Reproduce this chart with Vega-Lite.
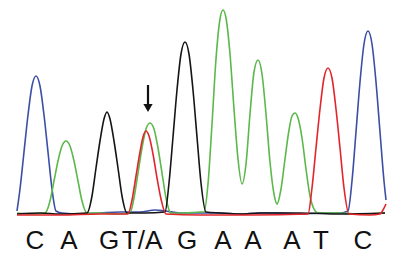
{
  "$schema": "https://vega.github.io/schema/vega-lite/v6.json",
  "width": 397,
  "height": 256,
  "padding": 0,
  "autosize": "none",
  "background": "white",
  "config": {"view": {"stroke": null}},
  "datasets": {
    "traces": [
      {"t":"C","x":17,"v":3},{"t":"C","x":20,"v":25},{"t":"C","x":24,"v":62},{"t":"C","x":28,"v":99},{"t":"C","x":32,"v":128},{"t":"C","x":36,"v":138},{"t":"C","x":40,"v":128},{"t":"C","x":44,"v":99},{"t":"C","x":48,"v":62},{"t":"C","x":52,"v":25},{"t":"C","x":56,"v":3},{"t":"C","x":62,"v":1},{"t":"C","x":80,"v":0},{"t":"C","x":100,"v":1},{"t":"C","x":120,"v":2},{"t":"C","x":140,"v":2},{"t":"C","x":155,"v":4},{"t":"C","x":165,"v":3},{"t":"C","x":180,"v":1},{"t":"C","x":200,"v":1},{"t":"C","x":220,"v":1},{"t":"C","x":240,"v":0},{"t":"C","x":260,"v":1},{"t":"C","x":280,"v":1},{"t":"C","x":300,"v":0},{"t":"C","x":320,"v":1},{"t":"C","x":340,"v":1},{"t":"C","x":348,"v":3},{"t":"C","x":352,"v":33},{"t":"C","x":356,"v":82},{"t":"C","x":360,"v":132},{"t":"C","x":364,"v":170},{"t":"C","x":368,"v":183},{"t":"C","x":372,"v":170},{"t":"C","x":376,"v":132},{"t":"C","x":380,"v":82},{"t":"C","x":384,"v":33},{"t":"C","x":386,"v":14},
      {"t":"A","x":17,"v":1},{"t":"A","x":30,"v":0},{"t":"A","x":45,"v":1},{"t":"A","x":50,"v":13},{"t":"A","x":54,"v":33},{"t":"A","x":58,"v":53},{"t":"A","x":62,"v":68},{"t":"A","x":66,"v":73},{"t":"A","x":70,"v":68},{"t":"A","x":74,"v":53},{"t":"A","x":78,"v":33},{"t":"A","x":82,"v":13},{"t":"A","x":87,"v":1},{"t":"A","x":100,"v":1},{"t":"A","x":115,"v":0},{"t":"A","x":130,"v":1},{"t":"A","x":134,"v":16},{"t":"A","x":138,"v":41},{"t":"A","x":142,"v":66},{"t":"A","x":146,"v":85},{"t":"A","x":150,"v":91},{"t":"A","x":154,"v":85},{"t":"A","x":158,"v":66},{"t":"A","x":162,"v":41},{"t":"A","x":166,"v":16},{"t":"A","x":171,"v":1},{"t":"A","x":185,"v":1},{"t":"A","x":200,"v":2},{"t":"A","x":204,"v":2},{"t":"A","x":208,"v":30},{"t":"A","x":212,"v":90},{"t":"A","x":216,"v":155},{"t":"A","x":220,"v":195},{"t":"A","x":223,"v":204},{"t":"A","x":226,"v":196},{"t":"A","x":230,"v":160},{"t":"A","x":234,"v":105},{"t":"A","x":238,"v":55},{"t":"A","x":242,"v":30},{"t":"A","x":246,"v":50},{"t":"A","x":250,"v":100},{"t":"A","x":254,"v":142},{"t":"A","x":258,"v":154},{"t":"A","x":262,"v":140},{"t":"A","x":266,"v":100},{"t":"A","x":270,"v":52},{"t":"A","x":274,"v":20},{"t":"A","x":277,"v":10},{"t":"A","x":281,"v":25},{"t":"A","x":285,"v":55},{"t":"A","x":289,"v":84},{"t":"A","x":292,"v":98},{"t":"A","x":295,"v":101},{"t":"A","x":298,"v":96},{"t":"A","x":302,"v":76},{"t":"A","x":306,"v":45},{"t":"A","x":310,"v":18},{"t":"A","x":314,"v":5},{"t":"A","x":318,"v":1},{"t":"A","x":340,"v":1},{"t":"A","x":360,"v":0},{"t":"A","x":385,"v":1},
      {"t":"G","x":17,"v":0},{"t":"G","x":40,"v":1},{"t":"G","x":60,"v":0},{"t":"G","x":87,"v":1},{"t":"G","x":92,"v":18},{"t":"G","x":96,"v":46},{"t":"G","x":100,"v":73},{"t":"G","x":104,"v":95},{"t":"G","x":107,"v":102},{"t":"G","x":110,"v":95},{"t":"G","x":114,"v":73},{"t":"G","x":118,"v":46},{"t":"G","x":122,"v":18},{"t":"G","x":127,"v":1},{"t":"G","x":145,"v":1},{"t":"G","x":165,"v":2},{"t":"G","x":169,"v":31},{"t":"G","x":173,"v":77},{"t":"G","x":177,"v":124},{"t":"G","x":181,"v":160},{"t":"G","x":185,"v":172},{"t":"G","x":189,"v":160},{"t":"G","x":193,"v":124},{"t":"G","x":197,"v":77},{"t":"G","x":201,"v":31},{"t":"G","x":206,"v":2},{"t":"G","x":220,"v":1},{"t":"G","x":240,"v":0},{"t":"G","x":260,"v":1},{"t":"G","x":300,"v":1},{"t":"G","x":340,"v":0},{"t":"G","x":385,"v":1},
      {"t":"T","x":17,"v":-1},{"t":"T","x":60,"v":-1},{"t":"T","x":100,"v":0},{"t":"T","x":128,"v":0},{"t":"T","x":132,"v":14},{"t":"T","x":136,"v":38},{"t":"T","x":140,"v":62},{"t":"T","x":143,"v":77},{"t":"T","x":146,"v":83},{"t":"T","x":149,"v":78},{"t":"T","x":153,"v":60},{"t":"T","x":157,"v":36},{"t":"T","x":161,"v":15},{"t":"T","x":166,"v":0},{"t":"T","x":200,"v":-1},{"t":"T","x":250,"v":-1},{"t":"T","x":308,"v":0},{"t":"T","x":312,"v":26},{"t":"T","x":316,"v":66},{"t":"T","x":320,"v":105},{"t":"T","x":324,"v":136},{"t":"T","x":328,"v":146},{"t":"T","x":332,"v":136},{"t":"T","x":336,"v":105},{"t":"T","x":340,"v":66},{"t":"T","x":344,"v":26},{"t":"T","x":349,"v":0},{"t":"T","x":370,"v":-1},{"t":"T","x":380,"v":0},{"t":"T","x":383,"v":4},{"t":"T","x":386,"v":10}
    ],
    "bases": [
      {"x":35,"b":"C"},{"x":69,"b":"A"},{"x":109,"b":"G"},{"x":142,"b":"T/A"},{"x":187,"b":"G"},{"x":223,"b":"A"},{"x":253,"b":"A"},{"x":292,"b":"A"},{"x":321,"b":"T"},{"x":363,"b":"C"}
    ],
    "arrow": [{"x":148,"v":129,"v2":108,"tip":106}]
  },
  "layer": [
    {
      "data": {"name": "traces"},
      "mark": {"type": "line", "interpolate": "monotone", "strokeWidth": 1.6},
      "encoding": {
        "x": {"field": "x", "type": "quantitative", "scale": {"domain": [0, 397], "nice": false, "zero": false}, "axis": null},
        "y": {"field": "v", "type": "quantitative", "scale": {"domain": [-42, 214], "nice": false, "zero": false}, "axis": null},
        "color": {"field": "t", "type": "nominal", "scale": {"domain": ["C", "A", "G", "T"], "range": ["#3b4fa6", "#5bb84a", "#151515", "#e2242b"]}, "legend": null},
        "order": {"field": "x", "type": "quantitative"}
      }
    },
    {
      "data": {"name": "bases"},
      "mark": {"type": "text", "font": "Liberation Sans", "fontSize": 26, "baseline": "alphabetic", "align": "center", "color": "#111"},
      "encoding": {
        "x": {"field": "x", "type": "quantitative"},
        "y": {"datum": -35, "type": "quantitative"},
        "text": {"field": "b"}
      }
    },
    {
      "data": {"name": "arrow"},
      "mark": {"type": "rule", "strokeWidth": 2.2, "color": "#111"},
      "encoding": {
        "x": {"field": "x", "type": "quantitative"},
        "y": {"field": "v", "type": "quantitative"},
        "y2": {"field": "v2"}
      }
    },
    {
      "data": {"name": "arrow"},
      "mark": {"type": "point", "shape": "triangle-down", "filled": true, "size": 85, "color": "#111", "opacity": 1},
      "encoding": {
        "x": {"field": "x", "type": "quantitative"},
        "y": {"field": "tip", "type": "quantitative"}
      }
    }
  ]
}
